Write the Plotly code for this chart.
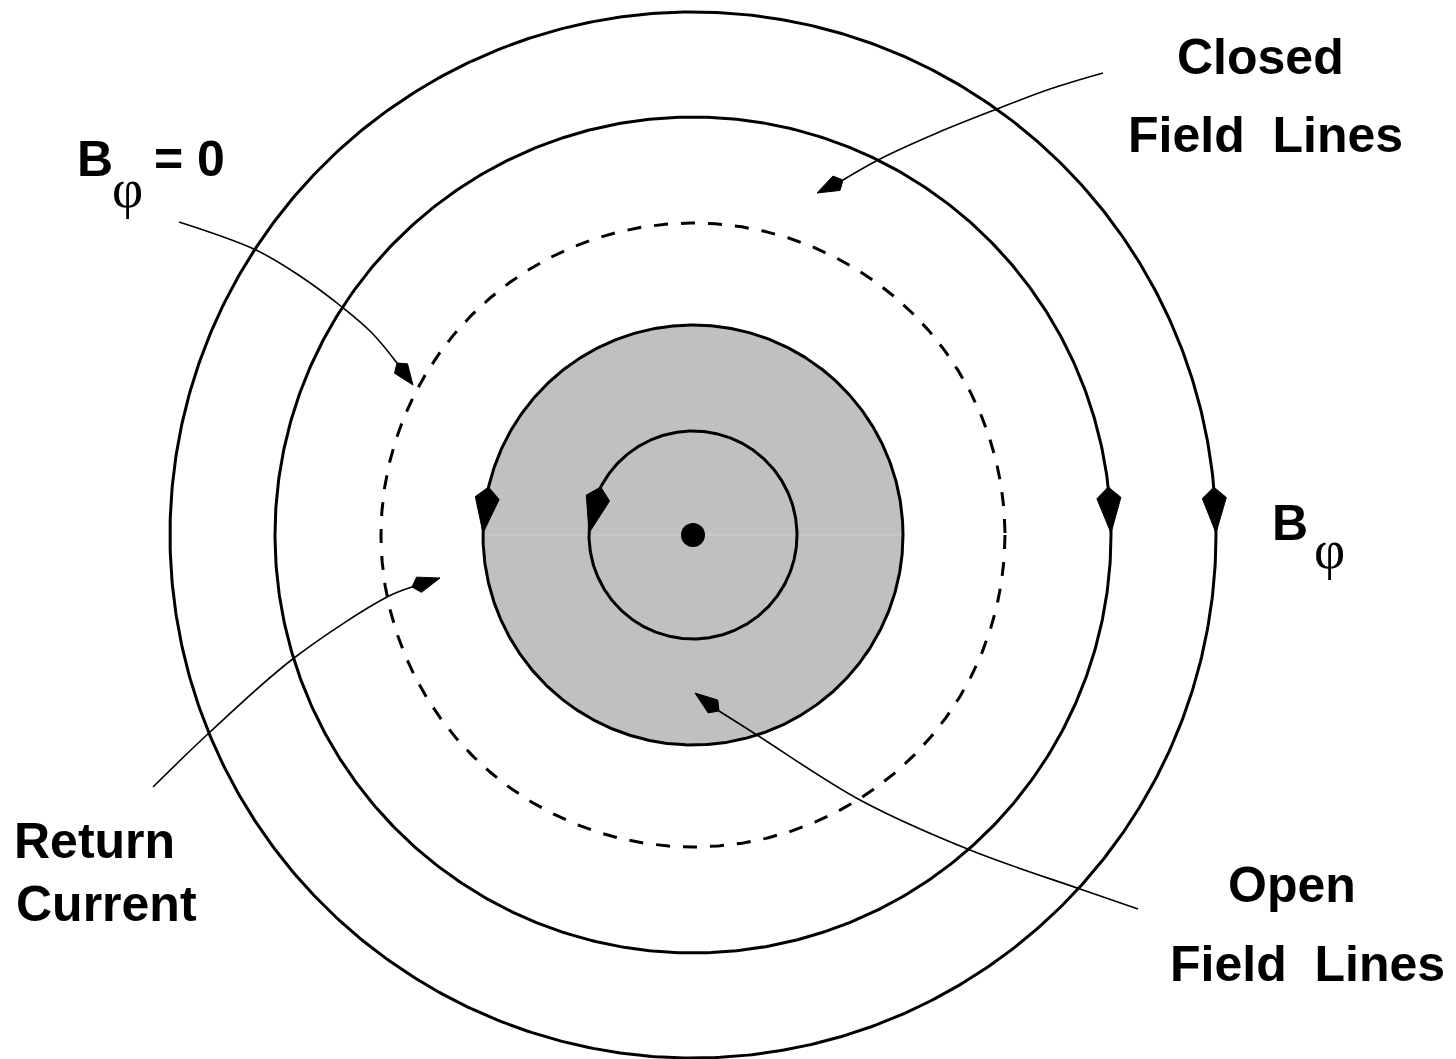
import numpy as np
import plotly.graph_objects as go

# ---------------- data ----------------
W, H = 1456, 1059
PAGE_MARGIN = 8                   # default browser body margin
center = (693, 535)
solid_radii = [523, 418]          # closed field line circles
dashed_radius = 312               # B_phi = 0 surface
open_radius = 210                 # shaded open-field region
inner_radius = 104                # inner field line
dot_size = 24

# arrows on circles: (radius, side)  -> all point downward on screen
circle_arrows = [(210, "left"), (104, "left"), (418, "right"), (523, "right")]

# leader curves (waypoints, last pair = arrow back -> arrow tip)
lead_closed_x = [1103, 1050, 997, 937, 880, 843, 817]
lead_closed_y = [73, 89, 109, 133, 159, 180, 193]
lead_bphi_x = [179, 256, 300, 342, 372, 397, 413]
lead_bphi_y = [222, 250, 276, 307, 333, 363, 385]
lead_return_x = [153, 210, 294, 387, 412, 440]
lead_return_y = [787, 732, 658, 597, 587, 578]
lead_open_x = [1138, 1080, 970, 860, 757, 719, 695]
lead_open_y = [909, 889, 850, 800, 735, 711, 693]

# text labels: (text, x, y, anchor)
bold_labels = [
    ("Closed", 1260, 57, "center"),
    ("Field\u00a0 Lines", 1265, 135, "center"),
    ("Open", 1292, 885, "center"),
    ("Field\u00a0 Lines", 1307, 964, "center"),
    ("Return", 12, 841, "left"),
    ("Current", 14, 904, "left"),
    ("B", 75, 159, "left"),
    ("= 0", 152, 159, "left"),
    ("B", 1270, 523, "left"),
]
phi_labels = [("φ", 127, 189), ("φ", 1329, 550)]

# ---------------- figure ----------------
fig = go.Figure()
cx, cy = center
t = np.linspace(0, 2 * np.pi, 721)


def circ(r):
    return cx + r * np.cos(t), cy + r * np.sin(t)


# open field region (shaded)
x, y = circ(open_radius)
fig.add_trace(go.Scatter(x=x, y=y, mode="lines", fill="toself", fillcolor="#c0c0c0",
                         line=dict(color="black", width=3), hoverinfo="skip"))
# faint seam line across shaded disk
fig.add_trace(go.Scatter(x=[cx - open_radius + 2, cx + open_radius - 2], y=[cy, cy], mode="lines",
                         line=dict(color="#cfcfcf", width=1), hoverinfo="skip"))

for r in solid_radii + [inner_radius]:
    x, y = circ(r)
    fig.add_trace(go.Scatter(x=x, y=y, mode="lines", line=dict(color="black", width=3),
                             hoverinfo="skip"))

x, y = circ(dashed_radius)
fig.add_trace(go.Scatter(x=x, y=y, mode="lines",
                         line=dict(color="black", width=3, dash="14px,13px"), hoverinfo="skip"))

# center dot
fig.add_trace(go.Scatter(x=[cx], y=[cy], mode="markers",
                         marker=dict(color="black", size=dot_size), hoverinfo="skip"))


def kite(tip, back, hw, wpos):
    tip = np.array(tip, float)
    back = np.array(back, float)
    d = tip - back
    L = np.hypot(*d)
    d /= L
    n = np.array([-d[1], d[0]])
    w = back + d * wpos * L
    p = [back, w + n * hw, tip, w - n * hw, back]
    return [q[0] for q in p], [q[1] for q in p]


# arrows on circles
for r, side in circle_arrows:
    tip_y = cy - 2
    back_y = cy - 48
    dx_tip = np.sqrt(r ** 2 - (cy - tip_y) ** 2)
    dx_back = np.sqrt(r ** 2 - (cy - back_y) ** 2)
    if side == "left":
        tip = (cx - dx_tip, tip_y)
        back = (cx - dx_back, back_y)
    else:
        tip = (cx + dx_tip, tip_y)
        back = (cx + dx_back, back_y)
    kx, ky = kite(tip, back, 12, 0.24)
    fig.add_trace(go.Scatter(x=kx, y=ky, mode="lines", fill="toself", fillcolor="black",
                             line=dict(color="black", width=1), hoverinfo="skip"))

# leader curves with arrowheads
for lx, ly in [(lead_closed_x, lead_closed_y), (lead_bphi_x, lead_bphi_y),
               (lead_return_x, lead_return_y), (lead_open_x, lead_open_y)]:
    fig.add_trace(go.Scatter(x=lx[:-1], y=ly[:-1], mode="lines", line_shape="spline",
                             line=dict(color="black", width=1.6), hoverinfo="skip"))
    kx, ky = kite((lx[-1], ly[-1]), (lx[-2], ly[-2]), 8, 0.25)
    fig.add_trace(go.Scatter(x=kx, y=ky, mode="lines", fill="toself", fillcolor="black",
                             line=dict(color="black", width=1), hoverinfo="skip"))

for txt, x0, y0, anc in bold_labels:
    fig.add_annotation(x=x0, y=y0, text=txt, showarrow=False, xanchor=anc, yanchor="middle",
                       font=dict(family="Liberation Sans, Arial", size=50, color="black",
                                 weight="bold"))
for txt, x0, y0 in phi_labels:
    fig.add_annotation(x=x0, y=y0, text=txt, showarrow=False, xanchor="center", yanchor="middle",
                       font=dict(family="Liberation Serif, Times New Roman", size=54,
                                 color="black"))

fig.update_layout(
    width=W - PAGE_MARGIN, height=H - PAGE_MARGIN, margin=dict(l=0, r=0, t=0, b=0),
    paper_bgcolor="white", plot_bgcolor="white", showlegend=False,
    xaxis=dict(range=[PAGE_MARGIN, W], visible=False, fixedrange=True),
    yaxis=dict(range=[H, PAGE_MARGIN], visible=False, fixedrange=True),
)
fig.write_html("out.html")
